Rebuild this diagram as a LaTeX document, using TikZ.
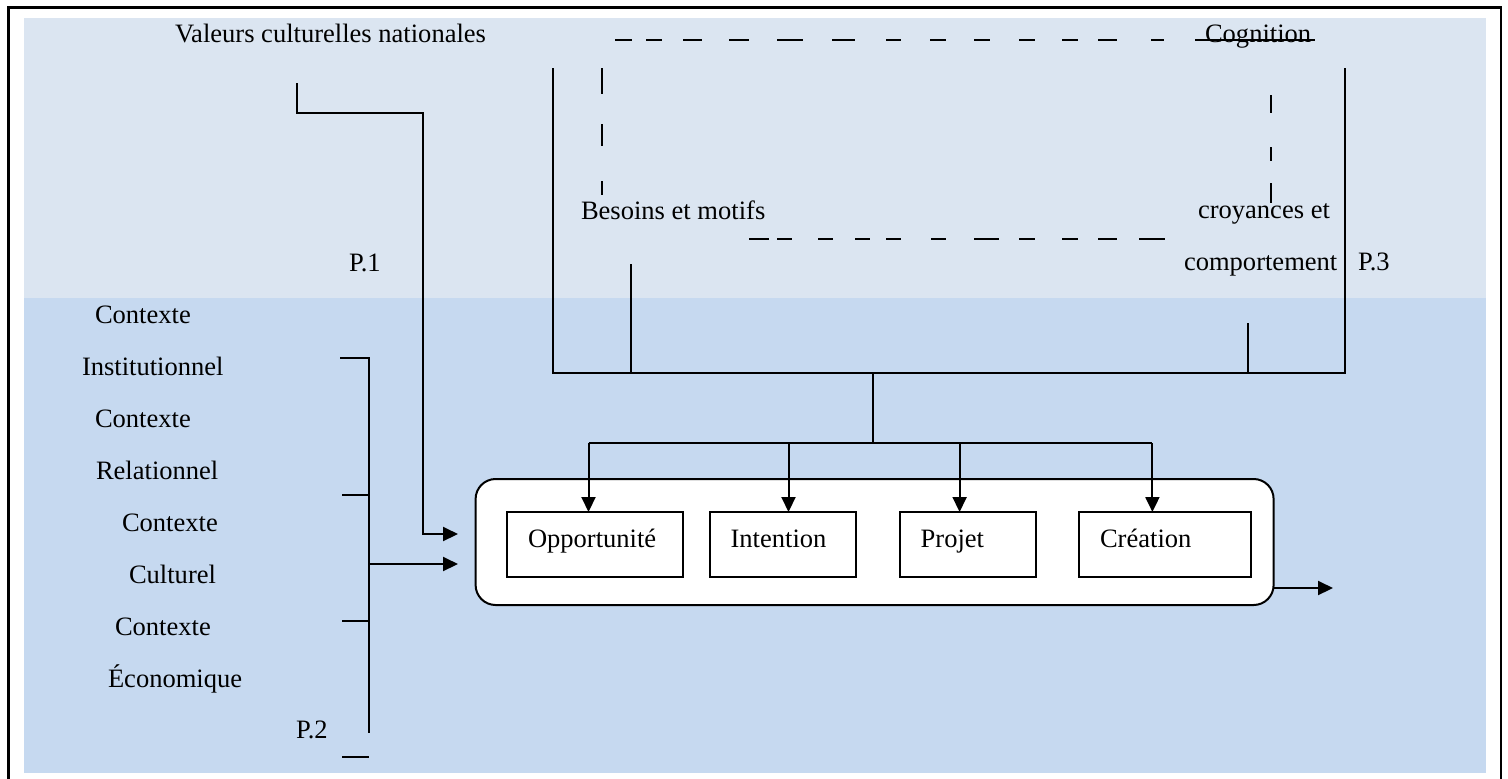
\documentclass[tikz,border=0pt]{standalone}
\usepackage{fontspec}
\setmainfont{Liberation Serif}
\usetikzlibrary{arrows.meta}
\definecolor{bandtop}{RGB}{219,229,241}
\definecolor{bandlow}{RGB}{198,217,240}

\begin{document}
\begin{tikzpicture}[x=0.5pt,y=-0.5pt,
  txt/.style={anchor=base west, inner sep=0pt, outer sep=0pt, font=\fontsize{13.27pt}{16pt}\selectfont},
  wire/.style={line width=1pt},
  dashseg/.style={line width=0.9pt},
  arr/.style={line width=1pt, -{Triangle[length=7.5pt,width=7pt]}},
  stagebox/.style={draw, line width=1pt, fill=white, inner sep=0pt, outer sep=0pt, minimum height=32.5pt},
  panel/.style={draw, line width=1pt, fill=white, rounded corners=10pt, inner sep=0pt, outer sep=0pt}
]
% canvas and background bands
\useasboundingbox (0,0) rectangle (1508,778);
\fill[white] (0,0) rectangle (1508,778);
\fill[bandtop] (24,18) rectangle (1486,298);
\fill[bandlow] (24,298) rectangle (1486,773);
\draw[line width=1.3pt] (8.5,820) -- (8.5,7.5) -- (1501,7.5) -- (1501,820);

% top labels
\node[txt] (valeurs) at (175,42) {Valeurs culturelles nationales};
\node[txt] (p1) at (349,271) {P.1};
\node[txt] (besoins) at (581,219) {Besoins et motifs};
\node[txt] (croy) at (1198,218) {croyances et};
\node[txt] (comp) at (1184,270) {comportement};
\node[txt] (p3) at (1358,270) {P.3};

% cognition frame (dashed)
\foreach \a/\b in {615/632,646/662,683/702,729/749,777/803,832/855,886/901,930/946,974/990,1019/1035,1062/1078,1098/1117,1151/1164,1195/1315}
  \draw[dashseg] (\a,40) -- (\b,40);
\foreach \a/\b in {749/769,777/792,818/833,855/870,886/901,931/946,974/999,1019/1035,1062/1078,1098/1117,1139/1165}
  \draw[dashseg] (\a,239) -- (\b,239);
\foreach \a/\b in {68/94,124/146,181/195}
  \draw[dashseg] (601.7,\a) -- (601.7,\b);
\foreach \a/\b in {95/113,147/161,183/203}
  \draw[dashseg] (1270.7,\a) -- (1270.7,\b);
\node[txt] (cognition) at (1205,42) {Cognition};

% left context labels
\node[txt] (c1) at (95,323) {Contexte};
\node[txt] (inst) at (82,375) {Institutionnel};
\node[txt] (c2) at (95,427) {Contexte};
\node[txt] (rel) at (96,479) {Relationnel};
\node[txt] (c3) at (122,531) {Contexte};
\node[txt] (cult) at (129,583) {Culturel};
\node[txt] (c4) at (115,635) {Contexte};
\node[txt] (eco) at (108,687) {Économique};
\node[txt] (p2) at (296,738) {P.2};

% process panel and stages
\node[panel, minimum width=399pt, minimum height=63pt] (panel) at (874.6,542) {};
\node[stagebox, minimum width=88pt] (opp) at (595,544.5) {};
\node[stagebox, minimum width=72.75pt] (intent) at (782.75,544.5) {};
\node[stagebox, minimum width=68pt] (projet) at (968.4,544.5) {};
\node[stagebox, minimum width=86.3pt] (creat) at (1165,544.5) {};
\node[txt] (toppo) at (528,547) {Opportunité};
\node[txt] (tintent) at (730.6,547) {Intention};
\node[txt] (tprojet) at (920.7,547) {Projet};
\node[txt] (tcreat) at (1100,547) {Création};

% cognition bracket feeding the stages
\coordinate (ctl) at (553,68);
\coordinate (ctr) at (1345,68);
\coordinate (cbl) at (553,373);
\coordinate (cbr) at (1345,373);
\draw[wire] (ctl) -- (cbl) -- (cbr) -- (ctr);
\coordinate (tickl) at (631,264);
\coordinate (tickr) at (1248,323);
\draw[wire] (tickl) -- (tickl |- cbl);
\draw[wire] (tickr) -- (tickr |- cbr);
\coordinate (hub) at (873,373);
\coordinate (bus) at (873,443);
\draw[line width=1.2pt] (hub) -- (bus);
\coordinate (b1) at (588.5,443);
\coordinate (b2) at (788.5,443);
\coordinate (b3) at (959.6,443);
\coordinate (b4) at (1152.4,443);
\draw[line width=1.2pt] (b1) -- (b4);
\draw[arr] (b1) -- (b1 |- opp.north);
\draw[arr] (b2) -- (b2 |- intent.north);
\draw[arr] (b3) -- (b3 |- projet.north);
\draw[arr] (b4) -- (b4 |- creat.north);

% national values connector
\coordinate (v0) at (297,83);
\coordinate (v1) at (423,113);
\coordinate (vin) at (458,534);
\draw[arr] (v0) |- (v1) |- (vin);

% context bracket
\coordinate (s0) at (369,358);
\coordinate (s1) at (369,733);
\draw[wire] (340,358) -- (s0) -- (s1);
\draw[wire] (342,495) -- (369,495);
\draw[wire] (342,621) -- (369,621);
\draw[wire] (342,757) -- (369,757);
\coordinate (sm) at (369,564);
\coordinate (sin) at (458,564);
\draw[arr] (sm) -- (sin);

% output
\coordinate (outend) at (1333,588);
\draw[arr] (outend -| panel.east) -- (outend);
\end{tikzpicture}
\end{document}
